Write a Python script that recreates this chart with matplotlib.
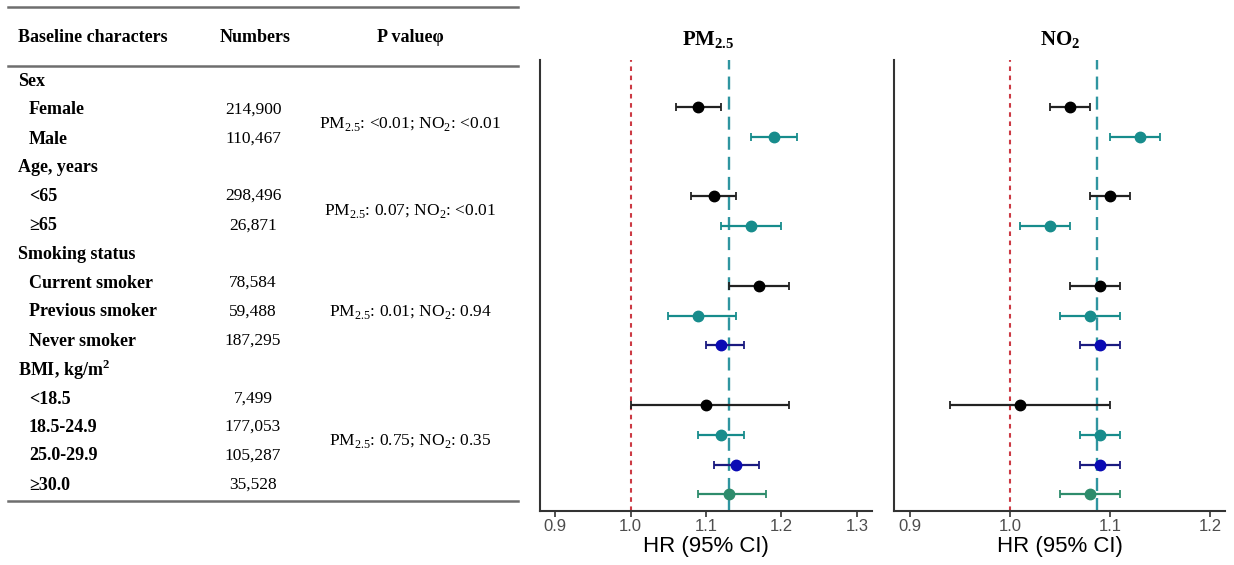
import matplotlib
matplotlib.use("Agg")
import matplotlib.pyplot as plt
from matplotlib.lines import Line2D

plt.rcParams['mathtext.fontset'] = 'custom'
plt.rcParams['mathtext.rm'] = 'Liberation Serif'
plt.rcParams['mathtext.bf'] = 'Liberation Serif:bold'

# table contents
groups = ["Sex", "Age, years", "Smoking status", "BMI, kg/m$^{\\mathbf{2}}$"]
subgroups = ["Female", "Male", "<65", "\u226565", "Current smoker", "Previous smoker",
             "Never smoker", "<18.5", "18.5-24.9", "25.0-29.9", "\u226530.0"]
numbers = ["214,900", "110,467", "298,496", "26,871", "78,584", "59,488",
           "187,295", "7,499", "177,053", "105,287", "35,528"]
pvalues = ["PM$_{2.5}$: <0.01; NO$_2$: <0.01", "PM$_{2.5}$: 0.07; NO$_2$: <0.01",
           "PM$_{2.5}$: 0.01; NO$_2$: 0.94", "PM$_{2.5}$: 0.75; NO$_2$: 0.35"]

# forest plot data (row position, HR, CI)
ypos = [0, 1, 3, 4, 6, 7, 8, 10, 11, 12, 13]
pm_hr = [1.09, 1.19, 1.11, 1.16, 1.17, 1.09, 1.12, 1.10, 1.12, 1.14, 1.13]
pm_lo = [1.06, 1.16, 1.08, 1.12, 1.13, 1.05, 1.10, 1.00, 1.09, 1.11, 1.09]
pm_hi = [1.12, 1.22, 1.14, 1.20, 1.21, 1.14, 1.15, 1.21, 1.15, 1.17, 1.18]
no2_hr = [1.06, 1.13, 1.10, 1.04, 1.09, 1.08, 1.09, 1.01, 1.09, 1.09, 1.08]
no2_lo = [1.04, 1.10, 1.08, 1.01, 1.06, 1.05, 1.07, 0.94, 1.07, 1.07, 1.05]
no2_hi = [1.08, 1.15, 1.12, 1.06, 1.11, 1.11, 1.11, 1.10, 1.11, 1.11, 1.11]
pm_overall = 1.13
no2_overall = 1.087

colors = ["black", "#178c8c", "black", "#178c8c", "black", "#178c8c", "#0a0ab4",
          "black", "#178c8c", "#0a0ab4", "#2e8c6c"]
bar_colors = ["#222222", "#178c8c", "#222222", "#178c8c", "#222222", "#178c8c", "#1a1a80",
              "#222222", "#178c8c", "#1a1a80", "#2e8c6c"]

W, H = 1234, 565
fig = plt.figure(figsize=(W / 100, H / 100), dpi=100)

def fx(px):
    return px / W

def fy(py):
    return 1 - py / H

# ---- table ----
serif = "Liberation Serif"
fs_b = 13
fs_n = 12.5
for yy in [7, 66, 501]:
    fig.add_artist(Line2D([fx(8), fx(518)], [fy(yy), fy(yy)], color="#6e6e6e", lw=1.8))

fig.text(fx(18), fy(37), "Baseline characters", family=serif, weight="bold", fontsize=fs_b, va="center")
fig.text(fx(255), fy(37), "Numbers", family=serif, weight="bold", fontsize=fs_b, va="center", ha="center")
fig.text(fx(410), fy(37), "P value\u03c6", family=serif, weight="bold", fontsize=fs_b, va="center", ha="center")

group_y = [82, 168, 254, 370]
sub_y = [110, 139, 196, 226, 283, 312, 341, 399, 427, 456, 485]
p_y = [124, 211, 312, 441]
for g, yy in zip(groups, group_y):
    fig.text(fx(18), fy(yy), g, family=serif, weight="bold", fontsize=fs_b, va="center")
for s, n, yy in zip(subgroups, numbers, sub_y):
    fig.text(fx(29), fy(yy), s, family=serif, weight="bold", fontsize=fs_b, va="center")
    fig.text(fx(253), fy(yy), n, family=serif, fontsize=fs_n, va="center", ha="center")
for p, yy in zip(pvalues, p_y):
    fig.text(fx(410), fy(yy), p, family=serif, fontsize=fs_n, va="center", ha="center")

# ---- forest panels ----
def forest(ax, hr, lo, hi, overall, xlim, ticks):
    for i in range(len(ypos)):
        ax.errorbar(hr[i], ypos[i], xerr=[[hr[i] - lo[i]], [hi[i] - hr[i]]],
                    fmt="o", color=colors[i], ecolor=bar_colors[i], ms=7.5,
                    elinewidth=1.6, capsize=3, capthick=1.3, zorder=3)
    ax.axvline(1.0, color="#cc3a44", lw=1.5, ls=(0, (2.2, 2.2)), zorder=1)
    ax.axvline(overall, color="#2f95a0", lw=1.7, ls=(0, (5.5, 3)), zorder=2)
    ax.set_xlim(*xlim)
    ax.set_ylim(13.56, -1.58)
    ax.set_xticks(ticks)
    ax.set_xticklabels(["%.1f" % t for t in ticks], family="Liberation Sans", fontsize=12, color="#4d4d4d")
    ax.set_yticks([])
    for s in ["top", "right"]:
        ax.spines[s].set_visible(False)
    for s in ["left", "bottom"]:
        ax.spines[s].set_color("#333333")
        ax.spines[s].set_linewidth(1.5)
    ax.tick_params(axis="x", length=4, width=1.2, color="#333333", pad=2)
    ax.set_xlabel("HR (95% CI)", family="Liberation Sans", fontsize=16, labelpad=1)

ax1 = fig.add_axes([fx(540), fy(511), fx(872) - fx(540), fy(60) - fy(511)])
forest(ax1, pm_hr, pm_lo, pm_hi, pm_overall, (0.88, 1.32), [0.9, 1.0, 1.1, 1.2, 1.3])
ax2 = fig.add_axes([fx(894), fy(511), fx(1225) - fx(894), fy(60) - fy(511)])
forest(ax2, no2_hr, no2_lo, no2_hi, no2_overall, (0.884, 1.215), [0.9, 1.0, 1.1, 1.2])

fig.text(fx(708), fy(40), "PM$_{\\mathbf{2.5}}$", family=serif, weight="bold", fontsize=15, ha="center", va="center")
fig.text(fx(1060), fy(40), "NO$_{\\mathbf{2}}$", family=serif, weight="bold", fontsize=15, ha="center", va="center")

fig.savefig("out.png", dpi=100)
